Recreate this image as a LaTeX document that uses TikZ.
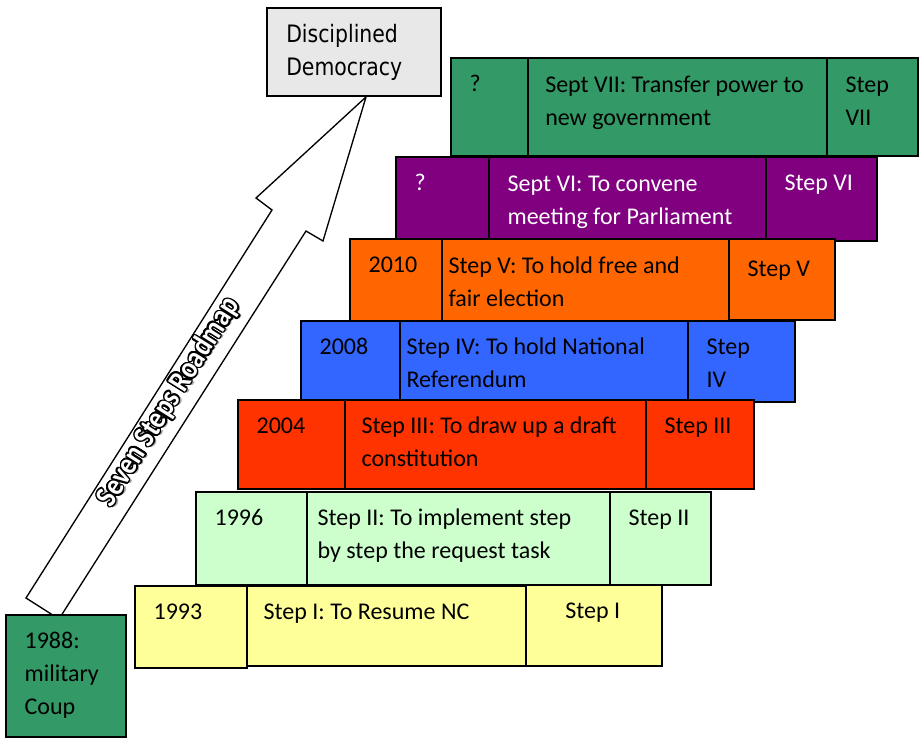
\documentclass[tikz,border=0pt]{standalone}
\usepackage{fontspec}
\setmainfont{Carlito}
\newfontfamily\goalfont[FakeStretch=0.85]{DejaVu Sans}
\newfontfamily\roadfont[FakeStretch=0.86]{Carlito}
\usepackage{xcolor}
\usepackage{tikz}
\usepackage{contour}
\usetikzlibrary{shapes,arrows,positioning,calc,fit}

\definecolor{seagreen}{HTML}{339966}
\definecolor{plum}{HTML}{800080}
\definecolor{tangerine}{HTML}{FF6600}
\definecolor{royal}{HTML}{3366FF}
\definecolor{scarlet}{HTML}{FF3300}
\definecolor{mint}{HTML}{CCFFCC}
\definecolor{lemon}{HTML}{FFFF99}
\definecolor{goalgray}{HTML}{E8E8E8}
\contourlength{1.1pt}

\begin{document}
\begin{tikzpicture}[x=0.75pt, y=-0.75pt,
    cell/.style={rectangle, draw=black, line width=1.5pt, inner sep=0pt},
    txt/.style={anchor=north west, inner sep=0pt, align=left, xshift=14.5pt, yshift=-8pt, font=\fontsize{18}{25}\selectfont}]
            \useasboundingbox (0,0) rectangle (921,739);

            % the roadmap arrow, its tail runs under the 1988 box
            \draw [line width=1pt, fill=white] (26,598) -- (272,210) -- (256,198) -- (366,97) -- (323,241) -- (306,231) -- (59,619) -- cycle;
            \node (roadtext) [rotate=57.7, inner sep=0pt, font=\roadfont\fontsize{23}{26}\selectfont\bfseries] at (170,403) {\rlap{\raisebox{-2.2pt}{\hspace{0.6pt}\textcolor{black!35}{Seven Steps Roadmap}}}\textcolor{white}{\contour{black}{Seven Steps Roadmap}}};

            \node (goal) [cell, fill=goalgray, fit={(267,8) (441,96)}, label={[txt, xshift=0.5pt, yshift=-0.75pt, font=\goalfont\fontsize{18}{25}\selectfont]north west:{\strut Disciplined\\Democracy}}] {};
            \node (coup) [cell, fill=seagreen, fit={(6,615) (126,737)}, label={[txt]north west:{\strut 1988:\\military\\Coup}}] {};

            % Step VII
            \node (yr7) [cell, fill=seagreen, fit={(451,58) (528,156)}, label={[txt]north west:{\strut ?}}] {};
            \node (ds7) [cell, fill=seagreen, fit={(528,58) (827,156)}, label={[txt, xshift=-1pt, yshift=-0.75pt]north west:{\strut Sept VII: Transfer power to\\new government}}] {};
            \node (st7) [cell, fill=seagreen, fit={(827,58) (918,156)}, label={[txt, yshift=-0.75pt]north west:{\strut Step\\VII}}] {};

            % Step VI
            \node (yr6) [cell, fill=plum, fit={(396,157) (489,241)}, label={[txt, text=white]north west:{\strut ?}}] {};
            \node (ds6) [cell, fill=plum, fit={(489,157) (766,241)}, label={[txt, text=white, yshift=-0.75pt]north west:{\strut Sept VI: To convene\\meeting for Parliament}}] {};
            \node (st6) [cell, fill=plum, fit={(766,157) (877,241)}, label={[txt, text=white]north west:{\strut Step VI}}] {};

            % Step V
            \node (yr5) [cell, fill=tangerine, fit={(350,239) (442,322)}, label={[txt]north west:{\strut 2010}}] {};
            \node (ds5) [cell, fill=tangerine, fit={(442,239) (729,322)}, label={[txt, xshift=-9pt, yshift=-0.75pt]north west:{\strut Step V: To hold free and\\fair election}}] {};
            \node (st5) [cell, fill=tangerine, fit={(729,239) (835,320)}, label={[txt, yshift=-2.8pt]north west:{\strut Step V}}] {};

            % Step IV
            \node (yr4) [cell, fill=royal, fit={(301,321) (400,402)}, label={[txt]north west:{\strut 2008}}] {};
            \node (ds4) [cell, fill=royal, fit={(400,321) (688,402)}, label={[txt, xshift=-9pt]north west:{\strut Step IV: To hold National\\Referendum}}] {};
            \node (st4) [cell, fill=royal, fit={(688,321) (795,402)}, label={[txt]north west:{\strut Step\\IV}}] {};

            % Step III
            \node (yr3) [cell, fill=scarlet, fit={(238,400) (345,489)}, label={[txt]north west:{\strut 2004}}] {};
            \node (ds3) [cell, fill=scarlet, fit={(345,400) (646,489)}, label={[txt, xshift=-1.5pt]north west:{\strut Step III: To draw up a draft\\constitution}}] {};
            \node (st3) [cell, fill=scarlet, fit={(646,400) (754,489)}, label={[txt]north west:{\strut Step III}}] {};

            % Step II
            \node (yr2) [cell, fill=mint, fit={(196,492) (307,585)}, label={[txt]north west:{\strut 1996}}] {};
            \node (ds2) [cell, fill=mint, fit={(307,492) (610,585)}, label={[txt, xshift=-6pt]north west:{\strut Step II: To implement step\\by step the request task}}] {};
            \node (st2) [cell, fill=mint, fit={(610,492) (711,585)}, label={[txt]north west:{\strut Step II}}] {};

            % Step I
            \node (yr1) [cell, fill=lemon, fit={(135,586) (247,668)}, label={[txt]north west:{\strut 1993}}] {};
            \node (ds1) [cell, fill=lemon, fit={(247,586) (526,666)}, label={[txt, xshift=-1.5pt]north west:{\strut Step I: To Resume NC}}] {};
            \node (st1) [cell, fill=lemon, fit={(526,585) (662,666)}, label={[txt, xshift=15.5pt]north west:{\strut Step I}}] {};
        \end{tikzpicture}
\end{document}
